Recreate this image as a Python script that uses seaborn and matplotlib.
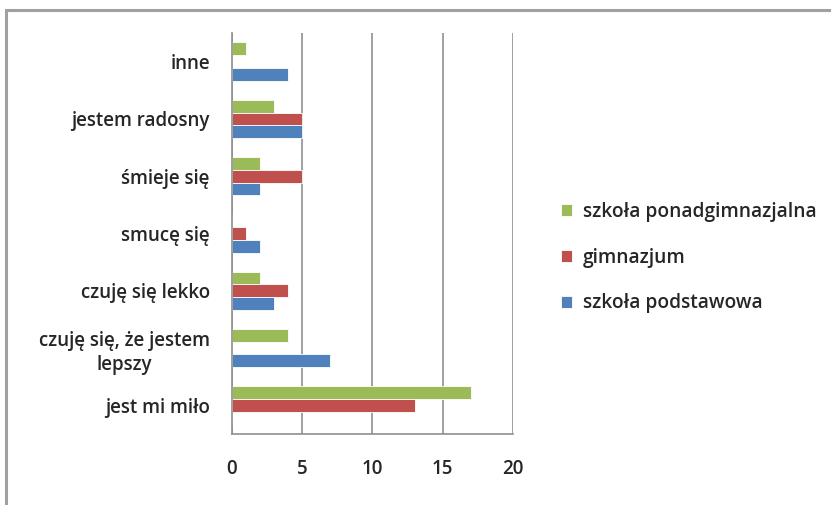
import matplotlib
matplotlib.use("Agg")
import matplotlib.pyplot as plt
from matplotlib.lines import Line2D
import seaborn as sns
import pandas as pd

categories = ["inne", "jestem radosny", "śmieje się", "smucę się",
              "czuję się lekko", "czuję się, że jestem\nlepszy", "jest mi miło"]
podstawowa = [4, 5, 2, 2, 3, 7, 0]
gimnazjum = [0, 5, 5, 1, 4, 0, 13]
ponadgimnazjalna = [1, 3, 2, 0, 2, 4, 17]
series = ["szkoła ponadgimnazjalna", "gimnazjum", "szkoła podstawowa"]
colors = ["#9BBB59", "#C0504D", "#4F81BD"]
xticks = [0, 5, 10, 15, 20]

rows = []
for name, vals in zip(series, [ponadgimnazjalna, gimnazjum, podstawowa]):
    for c, v in zip(categories, vals):
        rows.append({"kategoria": c, "szkoła": name, "liczba": v})
df = pd.DataFrame(rows)

sns.set_style("white")
plt.rcParams["font.family"] = ["Open Sans", "DejaVu Sans"]

fig = plt.figure(figsize=(8.31, 5.05), dpi=100)
ax = fig.add_axes([0.2792, 0.1406, 0.3381, 0.794])

sns.barplot(data=df, x="liczba", y="kategoria", hue="szkoła", order=categories,
            hue_order=series, palette=colors, orient="h", width=0.67,
            saturation=1, ax=ax, edgecolor="white", linewidth=0.6)

ax.set_xlim(0, 20)
ax.set_xticks(xticks)
ax.set_xlabel("")
ax.set_ylabel("")
ax.grid(axis="x", color="#a0a0a0", linewidth=1.4)
ax.set_axisbelow(True)
for s in ["top", "right"]:
    ax.spines[s].set_visible(False)
for s in ["left", "bottom"]:
    ax.spines[s].set_color("#909090")
    ax.spines[s].set_linewidth(1.2)

fs = 13.5
ax.tick_params(axis="x", length=6, color="#909090", width=1.2, pad=12, labelsize=fs)
ax.tick_params(axis="y", which="major", length=0, pad=16, labelsize=fs)
ax.set_yticks([i + 0.5 for i in range(-1, len(categories))], minor=True)
ax.tick_params(axis="y", which="minor", length=5, color="#909090", width=1.2)
for lab in ax.get_yticklabels():
    lab.set_multialignment("center")
    lab.set_fontweight("semibold")
    lab.set_linespacing(1.3)
for lab in ax.get_xticklabels():
    lab.set_fontweight("semibold")

ax.legend(loc="center left", bbox_to_anchor=(1.108, 0.44), frameon=False,
          handlelength=0.6, handleheight=0.6, labelspacing=1.35,
          handletextpad=0.55, prop={"weight": "semibold", "size": 13.8})

fig.add_artist(Line2D([0.0072, 0.0072], [0, 0.98], color="#a0a0a0", linewidth=2.2))
fig.add_artist(Line2D([0.0072, 1], [0.98, 0.98], color="#a0a0a0", linewidth=2.2))

fig.savefig("out.png", dpi=100)
